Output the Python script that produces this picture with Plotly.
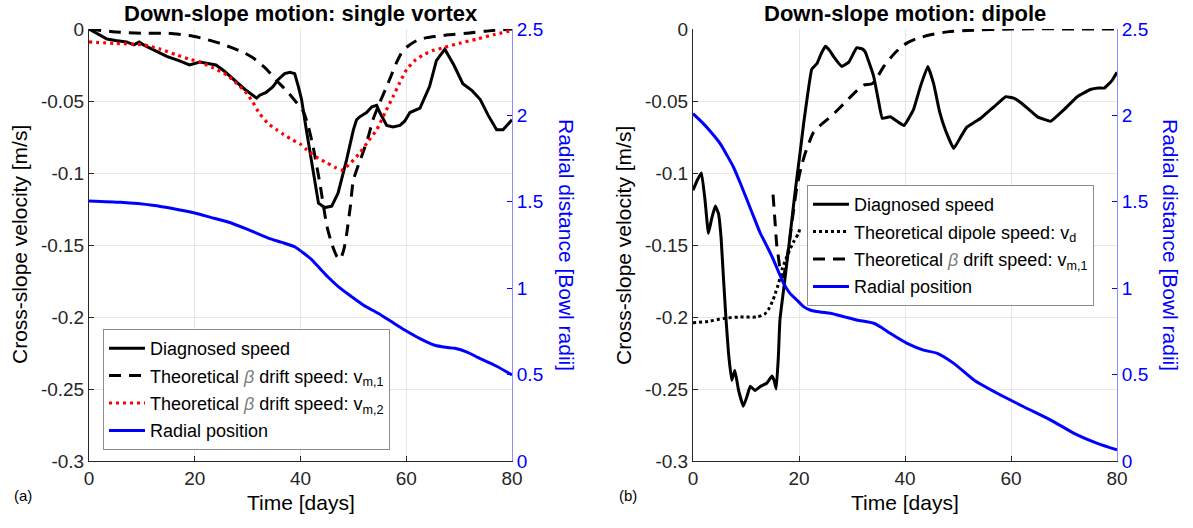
import plotly.graph_objects as go

# ---------------- Panel (a): single vortex ----------------
a_diag_t = [0, 1.5, 3.4, 5, 7.1, 8.5, 9.5, 10.3, 12.5, 14.7, 17, 19, 21, 23, 24, 25.5, 27.3, 29.5,
            31.7, 32.3, 33.5, 34.8, 35.8, 37, 38, 38.9, 39.6, 40.2, 41.1, 41.8, 42.8, 43.4, 44.6,
            45.9, 47.1, 48.7, 50, 50.6, 51.2, 52.5, 53.5, 54.4, 55, 56.3, 57.5, 58.8, 59.7, 60.7,
            62.6, 64.4, 65.7, 67.3, 69, 70.7, 72.5, 74, 75.5, 77.1, 78.3, 79, 80]
a_diag_v = [0, -0.003, -0.007, -0.008, -0.009, -0.011, -0.009, -0.011, -0.015, -0.019, -0.022,
            -0.025, -0.023, -0.024, -0.025, -0.029, -0.035, -0.042, -0.048, -0.046, -0.044,
            -0.040, -0.035, -0.031, -0.030, -0.031, -0.040, -0.049, -0.070, -0.086, -0.110,
            -0.121, -0.124, -0.123, -0.114, -0.091, -0.070, -0.063, -0.061, -0.058, -0.054,
            -0.053, -0.058, -0.067, -0.068, -0.067, -0.064, -0.058, -0.055, -0.040, -0.022,
            -0.014, -0.025, -0.038, -0.043, -0.049, -0.060, -0.070, -0.070, -0.067, -0.063]

a_vm1_t = [0, 5, 10, 15, 19.7, 22, 24.8, 27, 29.1, 31, 33.6, 35.5, 37.4, 39, 40.5, 41.5, 42.4,
           43.7, 45, 46, 46.9, 47.5, 48.2, 48.7, 49.4, 50, 51, 51.8, 52.8, 53.7, 55, 56.3, 57.3,
           58.2, 59.2, 60.3, 62, 63.9, 66, 68, 71.4, 75, 80]
a_vm1_v = [0, -0.002, -0.003, -0.003, -0.005, -0.007, -0.010, -0.013, -0.016, -0.020, -0.028,
           -0.036, -0.043, -0.050, -0.057, -0.068, -0.082, -0.108, -0.137, -0.150, -0.158,
           -0.160, -0.153, -0.143, -0.124, -0.105, -0.094, -0.086, -0.075, -0.063, -0.051,
           -0.040, -0.031, -0.023, -0.016, -0.012, -0.008, -0.006, -0.005, -0.004, -0.003,
           -0.0015, 0]

a_vm2_t = [0, 5, 10.3, 13.5, 16.6, 19, 21, 23.5, 26.1, 28, 29.9, 31, 32.3, 34, 35.5, 36.7, 38.5,
           40, 41.2, 43, 45, 46.5, 47.8, 49.5, 51.2, 52.8, 54.4, 56, 57.5, 58.8, 60.1, 61.6,
           63.2, 65, 67, 70, 73.3, 76.5, 80]
a_vm2_v = [-0.009, -0.010, -0.011, -0.014, -0.018, -0.021, -0.023, -0.027, -0.032, -0.038,
           -0.045, -0.051, -0.059, -0.066, -0.070, -0.073, -0.077, -0.080, -0.084, -0.089,
           -0.093, -0.096, -0.098, -0.093, -0.086, -0.078, -0.070, -0.058, -0.047, -0.037,
           -0.028, -0.022, -0.018, -0.015, -0.013, -0.010, -0.007, -0.004, -0.001]

a_rad_t = [0, 6, 12, 16, 20, 23, 26.3, 30, 33.9, 36.5, 38.9, 40.5, 42.2, 43.8, 45.2, 47.5, 49.7,
           52, 54.6, 57, 59.7, 62.5, 65.4, 67.5, 69.2, 71.5, 73.5, 77, 80]
a_rad_r = [1.505, 1.497, 1.48, 1.46, 1.435, 1.41, 1.383, 1.34, 1.29, 1.265, 1.24, 1.205, 1.163,
           1.11, 1.065, 1.0, 0.95, 0.9, 0.856, 0.81, 0.758, 0.71, 0.67, 0.658, 0.652, 0.63,
           0.60, 0.55, 0.498]

# ---------------- Panel (b): dipole ----------------
b_diag_t = [0, 0.8, 1.6, 2.3, 2.9, 3.5, 4.2, 4.8, 5.3, 5.7, 6.2, 6.7, 7.3, 7.9, 8.6, 9.5, 10.2,
            10.8, 11.7, 12.8, 13.9, 14.9, 15.3, 15.7, 16.1, 16.4, 17.3, 18.3, 19.2, 20.2, 20.9,
            21.5, 22.4, 23.4, 24.2, 25, 25.8, 26.5, 28.1, 29.4, 30.9, 32, 32.5, 34.1, 35, 35.7,
            37.2, 38.5, 39.8, 41.6, 42.9, 44.3, 45.4, 46.5, 47.6, 49.2, 50.5, 51.7, 53, 54.3,
            55.5, 56.8, 59, 60.5, 61.8, 63.1, 65, 67.5, 70, 72.5, 75, 76.5, 77.6, 79, 80]
b_diag_v = [-0.112, -0.105, -0.100, -0.120, -0.142, -0.132, -0.123, -0.128, -0.145, -0.170,
            -0.200, -0.225, -0.244, -0.237, -0.251, -0.262, -0.255, -0.248, -0.251, -0.248,
            -0.246, -0.241, -0.244, -0.250, -0.228, -0.202, -0.175, -0.144, -0.115, -0.086,
            -0.065, -0.049, -0.028, -0.024, -0.017, -0.012, -0.015, -0.019, -0.026, -0.023,
            -0.013, -0.014, -0.016, -0.033, -0.050, -0.062, -0.061, -0.064, -0.067, -0.056,
            -0.040, -0.026, -0.038, -0.057, -0.070, -0.083, -0.075, -0.068, -0.065, -0.062,
            -0.058, -0.054, -0.047, -0.048, -0.051, -0.055, -0.061, -0.064, -0.056, -0.047,
            -0.042, -0.041, -0.041, -0.036, -0.030]

b_vd_t = [0, 3, 5.7, 8.9, 12, 13.5, 14.2, 15, 15.5, 16.2, 16.8, 17.5, 18.3, 19.1, 19.9, 20.2]
b_vd_v = [-0.204, -0.203, -0.201, -0.200, -0.200, -0.198, -0.195, -0.189, -0.184, -0.176,
          -0.167, -0.160, -0.153, -0.147, -0.142, -0.138]

b_vm1_t = [15.1, 15.5, 15.8, 16.1, 16.6, 17.0, 17.5, 18.3, 19.0, 19.6, 20.4, 21.2, 22.0, 22.7,
           24, 25.3, 26.8, 28.4, 30.3, 32.2, 33.8, 35, 36, 38, 39.8, 42, 44.8, 48, 51.7, 60, 80]
b_vm1_v = [-0.115, -0.135, -0.150, -0.158, -0.170, -0.172, -0.165, -0.145, -0.125, -0.110,
           -0.096, -0.086, -0.078, -0.072, -0.067, -0.063, -0.058, -0.052, -0.045, -0.039,
           -0.038, -0.032, -0.026, -0.017, -0.011, -0.007, -0.004, -0.002, -0.001, 0, 0]

b_rad_t = [0, 1.9, 3.5, 5.1, 6.4, 7.6, 8.9, 10.2, 11.5, 12.7, 14, 15.2, 16.2, 17.1, 18.3, 19.6,
           20.8, 22.1, 24, 25.9, 28.5, 30.9, 34.1, 35.7, 37.2, 40.4, 43.5, 46.1, 49.2, 53, 57.4,
           62.4, 67.5, 71.9, 76.3, 80]
b_rad_r = [2.01, 1.954, 1.90, 1.838, 1.77, 1.703, 1.61, 1.51, 1.41, 1.318, 1.24, 1.163, 1.09,
           1.028, 0.97, 0.932, 0.895, 0.874, 0.862, 0.855, 0.835, 0.816, 0.797, 0.77, 0.739,
           0.681, 0.642, 0.623, 0.565, 0.469, 0.392, 0.314, 0.237, 0.160, 0.102, 0.064]

x_ticks = [0, 20, 40, 60, 80]
v_ticks = [0, -0.05, -0.1, -0.15, -0.2, -0.25, -0.3]
v_labels = ["0", "-0.05", "-0.1", "-0.15", "-0.2", "-0.25", "-0.3"]
r_ticks = [0, 0.5, 1, 1.5, 2, 2.5]
r_labels = ["0", "0.5", "1", "1.5", "2", "2.5"]

FONT = "Liberation Sans, Arial, Helvetica, sans-serif"
BLACK = "#000000"
BLUE = "#0000ff"
AXGRAY = "#262626"
BETA = '<span style="color:#808080"><i>β</i></span>'

W, H = 1193, 528
# axes boxes in pixels
AX_TOP, AX_BOT = 29, 461
A_L, A_R = 89, 512
B_L, B_R = 693, 1117

def px(x):
    return x / W

def py(y):
    return 1 - y / H

fig = go.Figure()

def add_line(t, v, name, xa, ya, leg, grp, **line):
    fig.add_trace(go.Scatter(x=t, y=v, mode="lines", name=name, line=line,
                             xaxis=xa, yaxis=ya, legend=leg, legendgroup=grp))

# panel (a)
add_line(a_diag_t, a_diag_v, "Diagnosed speed", "x", "y", "legend", "a1",
         color=BLACK, width=3)
add_line(a_vm1_t, a_vm1_v, f"Theoretical {BETA} drift speed: v<sub>m,1</sub>", "x", "y",
         "legend", "a2", color=BLACK, width=3, dash="12px,8px", shape="spline", smoothing=0.6)
add_line(a_vm2_t, a_vm2_v, f"Theoretical {BETA} drift speed: v<sub>m,2</sub>", "x", "y",
         "legend", "a3", color="#ff0000", width=3.2, dash="3px,4px", shape="spline", smoothing=0.6)
add_line(a_rad_t, a_rad_r, "Radial position", "x", "y2", "legend", "a4",
         color=BLUE, width=3, shape="spline", smoothing=0.6)

# panel (b)
add_line(b_diag_t, b_diag_v, "Diagnosed speed", "x2", "y3", "legend2", "b1",
         color=BLACK, width=3, shape="spline", smoothing=0.3)
add_line(b_vd_t, b_vd_v, "Theoretical dipole speed: v<sub>d</sub>", "x2", "y3", "legend2", "b2",
         color=BLACK, width=3, dash="3px,3px", shape="spline", smoothing=0.6)
add_line(b_vm1_t, b_vm1_v, f"Theoretical {BETA} drift speed: v<sub>m,1</sub>", "x2", "y3",
         "legend2", "b3", color=BLACK, width=3, dash="12px,8px", shape="spline", smoothing=0.6)
add_line(b_rad_t, b_rad_r, "Radial position", "x2", "y4", "legend2", "b4",
         color=BLUE, width=3, shape="spline", smoothing=0.6)

tickfont = dict(family=FONT, size=19, color=AXGRAY)
bluefont = dict(family=FONT, size=19, color=BLUE)

def xaxis_cfg(left, right, anchor):
    return dict(domain=[px(left), px(right)], anchor=anchor, range=[0, 80],
                tickvals=x_ticks, ticks="inside", ticklen=5, tickcolor=AXGRAY,
                showline=True, linecolor=AXGRAY, linewidth=1, mirror=False,
                showgrid=True, gridcolor="#e6e6e6", gridwidth=1, zeroline=False,
                tickfont=tickfont, fixedrange=True, automargin=False)

def vaxis_cfg(anchor):
    return dict(domain=[py(AX_BOT), py(AX_TOP)], anchor=anchor, range=[-0.3, 0],
                tickvals=v_ticks, ticktext=v_labels, ticks="inside", ticklen=5,
                tickcolor=AXGRAY, showline=True, linecolor=AXGRAY, linewidth=1,
                showgrid=True, gridcolor="#e6e6e6", gridwidth=1, zeroline=False,
                tickfont=tickfont, fixedrange=True, automargin=False)

def raxis_cfg(anchor, over):
    return dict(overlaying=over, anchor=anchor, side="right", range=[0, 2.5],
                tickvals=r_ticks, ticktext=r_labels, ticks="inside", ticklen=5,
                tickcolor=BLUE, showline=True, linecolor="#8c8cff", linewidth=1,
                showgrid=False, zeroline=False, tickfont=bluefont, fixedrange=True,
                automargin=False)

legend_common = dict(xanchor="left", yanchor="top", bgcolor="white",
                     bordercolor="#8c8c8c", borderwidth=1,
                     font=dict(family=FONT, size=18, color=BLACK),
                     itemwidth=36, tracegroupgap=1)

fig.update_layout(
    template="none",
    width=W, height=H,
    margin=dict(l=0, r=0, t=0, b=0, autoexpand=False),
    paper_bgcolor="white", plot_bgcolor="white",
    font=dict(family=FONT, color=BLACK),
    showlegend=True,
    xaxis=xaxis_cfg(A_L, A_R, "y"),
    yaxis=vaxis_cfg("x"),
    yaxis2=raxis_cfg("x", "y"),
    xaxis2=xaxis_cfg(B_L, B_R, "y3"),
    yaxis3=vaxis_cfg("x2"),
    yaxis4=raxis_cfg("x2", "y3"),
    legend=dict(x=px(103), y=py(329), **legend_common),
    legend2=dict(x=px(807), y=py(185), **legend_common),
)

def text(x, y, s, size=18, color=BLACK, angle=0, xanchor="center", bold=False):
    if bold:
        s = f"<b>{s}</b>"
    fig.add_annotation(x=px(x), y=py(y), xref="paper", yref="paper", text=s,
                       showarrow=False, textangle=angle, xanchor=xanchor, yanchor="middle",
                       font=dict(family=FONT, size=size, color=color))

# titles
text((A_L + A_R) / 2, 13, "Down-slope motion: single vortex", size=22, bold=True)
text((B_L + B_R) / 2, 13, "Down-slope motion: dipole", size=22, bold=True)
# axis titles
text((A_L + A_R) / 2, 502, "Time [days]", size=21)
text((B_L + B_R) / 2, 502, "Time [days]", size=21)
text(19, 245, "Cross-slope velocity [m/s]", size=21, angle=-90)
text(623, 245, "Cross-slope velocity [m/s]", size=21, angle=-90)
text(567, 245, "Radial distance [Bowl radii]", size=21, color=BLUE, angle=90)
text(1171, 245, "Radial distance [Bowl radii]", size=21, color=BLUE, angle=90)
# panel tags
text(12, 495, "(a)", size=15, xanchor="left")
text(617, 495, "(b)", size=15, xanchor="left")

fig.write_html("out.html",
               config={"displayModeBar": False},
               post_script="document.body.style.margin='0';"
                           "document.documentElement.style.overflow='hidden';")
